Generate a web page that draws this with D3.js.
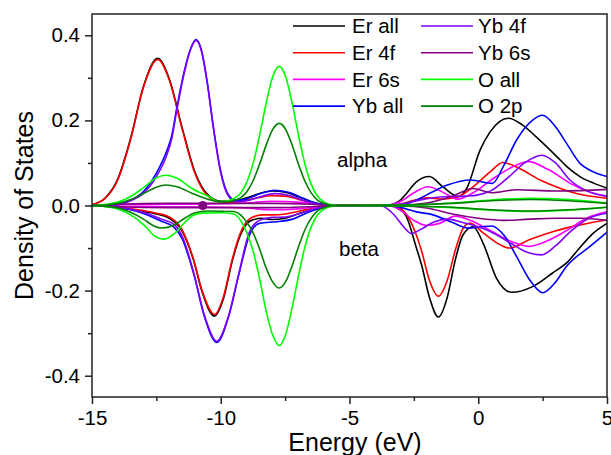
<!DOCTYPE html>
<html>
<head>
<meta charset="utf-8">
<script src="https://cdn.jsdelivr.net/npm/d3@7"></script>
<style>
  body { margin: 0; background: #fff; }
  text { font-family: Arial, "Liberation Sans", sans-serif; fill: #000; }
</style>
</head>
<body>
<div id="chart"></div>
<script>
// ---- data: [energy (eV), DOS] ----
const erAllUp = [[-15,0.002],[-14.5,0.017],[-14,0.062],[-13.5,0.158],[-13,0.28],[-12.45,0.346],[-12,0.298],[-11.5,0.183],[-11,0.078],[-10.5,0.025],[-10,0.01],[-9.5,0.01],[-9,0.018],[-8.5,0.028],[-8,0.034],[-7.5,0.031],[-7,0.021],[-6.5,0.009],[-6,0.002],[-5.5,0],[-4,0],[-3.5,0.001],[-3,0.014],[-2.78,0.029],[-2.39,0.056],[-1.9,0.068],[-1.36,0.043],[-0.77,0.021],[-0.45,0.04],[0.07,0.13],[0.46,0.173],[1.17,0.205],[1.7,0.19],[2.27,0.16],[3.05,0.115],[3.43,0.092],[3.95,0.068],[4.5,0.052],[5,0.041]];
const erFourUp = [[-15,0.002],[-14.5,0.016],[-14,0.06],[-13.5,0.155],[-13,0.278],[-12.45,0.343],[-12,0.295],[-11.5,0.18],[-11,0.075],[-10.5,0.022],[-10,0.008],[-9.5,0.007],[-9,0.012],[-8.5,0.019],[-8,0.023],[-7.5,0.022],[-7,0.015],[-6.5,0.006],[-6,0.001],[-5.5,0],[-3.5,0],[-3,0.004],[-2.5,0.012],[-2,0.018],[-1.4,0.015],[-0.8,0.02],[-0.2,0.044],[0.46,0.079],[0.95,0.101],[1.6,0.087],[2.4,0.06],[3.2,0.04],[3.7,0.03],[5,0.017]];
const erSixUp = [[-15,0],[-14,0.002],[-12,0.003],[-10,0.004],[-9,0.006],[-8,0.01],[-7,0.008],[-6,0.002],[-5.5,0],[-3.5,0.001],[-3,0.01],[-2.5,0.03],[-1.95,0.044],[-1.4,0.032],[-0.8,0.015],[-0.2,0.03],[0.5,0.06],[1.3,0.09],[1.95,0.103],[2.7,0.085],[3.7,0.048],[4.4,0.03],[5,0.021]];
const ybAllUp = [[-15,0],[-14,0.002],[-13.5,0.013],[-13,0.033],[-12.5,0.076],[-12.1,0.128],[-11.9,0.165],[-11.7,0.232],[-11.4,0.32],[-11.15,0.372],[-10.96,0.39],[-10.75,0.365],[-10.5,0.28],[-10.3,0.19],[-10,0.08],[-9.7,0.025],[-9.4,0.012],[-9,0.015],[-8.5,0.027],[-7.9,0.036],[-7.3,0.03],[-6.8,0.017],[-6.3,0.006],[-5.8,0.001],[-5,0],[-3,0.002],[-2.5,0.01],[-2,0.025],[-1.2,0.048],[-0.3,0.06],[0.55,0.052],[1,0.095],[1.5,0.155],[2.1,0.2],[2.5,0.212],[3,0.185],[3.43,0.146],[3.95,0.099],[4.34,0.083],[5,0.068]];
const ybFourUp = [[-15,0],[-14,0.002],[-13.5,0.011],[-13,0.029],[-12.5,0.068],[-12.1,0.118],[-11.9,0.158],[-11.7,0.226],[-11.4,0.316],[-11.15,0.37],[-10.96,0.388],[-10.75,0.363],[-10.5,0.278],[-10.3,0.188],[-10,0.077],[-9.7,0.022],[-9.4,0.009],[-9,0.011],[-8.5,0.02],[-7.9,0.028],[-7.3,0.023],[-6.8,0.012],[-6.3,0.004],[-5.8,0],[-3.5,0],[-3,0.003],[-2.5,0.01],[-1.5,0.02],[-0.5,0.022],[0,0.025],[0.5,0.035],[1.2,0.068],[1.8,0.1],[2.46,0.118],[3,0.1],[3.56,0.06],[4.2,0.035],[5,0.022]];
const ybSixUp = [[-15,0],[-14,0.003],[-12,0.005],[-10,0.005],[-8,0.005],[-6.5,0.003],[-5.5,0],[-3,0.001],[-2,0.006],[-1,0.022],[-0.2,0.04],[0.5,0.03],[1.5,0.037],[3,0.034],[4,0.035],[5,0.038]];
const oAllUp = [[-15,0],[-14.5,0.002],[-14,0.008],[-13.5,0.021],[-13,0.042],[-12.5,0.065],[-12.13,0.071],[-11.7,0.064],[-11.12,0.04],[-10.47,0.021],[-10.07,0.009],[-9.73,0.011],[-9.48,0.017],[-9.23,0.029],[-8.98,0.056],[-8.73,0.102],[-8.48,0.168],[-8.23,0.242],[-7.98,0.303],[-7.73,0.327],[-7.48,0.303],[-7.23,0.241],[-6.98,0.165],[-6.73,0.097],[-6.48,0.049],[-6.23,0.021],[-5.98,0.008],[-5.73,0.002],[-5.4,0],[-3,0.001],[-1,0.006],[0.5,0.013],[2,0.017],[3.5,0.014],[5,0.006]];
const oTwoUp = [[-15,0],[-14.5,0.001],[-14,0.005],[-13.5,0.014],[-13,0.028],[-12.5,0.043],[-12.13,0.048],[-11.7,0.044],[-11.12,0.029],[-10.47,0.014],[-10.07,0.009],[-9.73,0.009],[-9.48,0.012],[-9.23,0.018],[-8.98,0.033],[-8.73,0.06],[-8.48,0.099],[-8.23,0.143],[-7.98,0.179],[-7.73,0.193],[-7.48,0.179],[-7.23,0.142],[-6.98,0.097],[-6.73,0.057],[-6.48,0.029],[-6.23,0.012],[-5.98,0.005],[-5.73,0.001],[-5.4,0],[-3,0.001],[-1,0.005],[0.5,0.011],[2,0.014],[3.5,0.011],[5,0.005]];

const erAllDn = [[-15,0],[-14,-0.005],[-13,-0.014],[-12.5,-0.02],[-12,-0.03],[-11.5,-0.06],[-11.05,-0.13],[-10.74,-0.2],[-10.24,-0.26],[-9.9,-0.22],[-9.56,-0.132],[-9.24,-0.07],[-8.84,-0.036],[-8.4,-0.03],[-8,-0.033],[-7.5,-0.03],[-7,-0.02],[-6.5,-0.01],[-6,-0.003],[-5.5,0],[-3.5,0],[-3.2,-0.003],[-2.8,-0.025],[-2.4,-0.1],[-2.2,-0.14],[-1.9,-0.215],[-1.55,-0.262],[-1.2,-0.215],[-0.9,-0.13],[-0.6,-0.07],[-0.2,-0.05],[0.2,-0.09],[0.7,-0.17],[1.3,-0.204],[2.13,-0.19],[2.9,-0.158],[3.43,-0.135],[4,-0.095],[4.47,-0.065],[5,-0.042]];
const erFourDn = [[-15,0],[-14,-0.004],[-13,-0.012],[-12.5,-0.018],[-12,-0.027],[-11.5,-0.057],[-11.05,-0.128],[-10.74,-0.197],[-10.24,-0.256],[-9.9,-0.215],[-9.56,-0.128],[-9.24,-0.065],[-8.84,-0.03],[-8.4,-0.022],[-8,-0.022],[-7.5,-0.02],[-7,-0.014],[-6.5,-0.007],[-6,-0.002],[-5.5,0],[-3.5,0],[-3.2,-0.002],[-2.8,-0.02],[-2.4,-0.07],[-2.2,-0.107],[-1.9,-0.175],[-1.55,-0.213],[-1.2,-0.175],[-0.9,-0.107],[-0.6,-0.055],[-0.32,-0.041],[0.2,-0.065],[0.84,-0.092],[1.2,-0.1],[2,-0.08],[2.92,-0.061],[4,-0.045],[5,-0.034]];
const erSixDn = [[-15,0],[-14,-0.002],[-12,-0.003],[-10,-0.004],[-9,-0.006],[-8,-0.01],[-7,-0.008],[-6,-0.002],[-5.5,0],[-3.5,0],[-3,-0.012],[-2.5,-0.035],[-2,-0.047],[-1.5,-0.042],[-0.9,-0.025],[-0.3,-0.035],[0.5,-0.06],[1.3,-0.085],[1.94,-0.096],[2.6,-0.085],[3.4,-0.06],[4.2,-0.03],[5,-0.015]];
const ybAllDn = [[-15,0],[-14,-0.004],[-13.5,-0.01],[-12.9,-0.021],[-12.3,-0.037],[-11.8,-0.052],[-11.5,-0.078],[-11.04,-0.163],[-10.65,-0.258],[-10.15,-0.322],[-9.7,-0.262],[-9.3,-0.163],[-8.9,-0.072],[-8.5,-0.042],[-7.8,-0.038],[-7.2,-0.032],[-6.6,-0.016],[-6,-0.004],[-5.6,0],[-3.5,0],[-3,-0.005],[-2.4,-0.015],[-1.75,-0.022],[-1,-0.04],[-0.38,-0.053],[0.1,-0.05],[0.52,-0.048],[1,-0.07],[1.49,-0.12],[2,-0.175],[2.5,-0.205],[3,-0.18],[3.43,-0.143],[4.34,-0.096],[5,-0.063]];
const ybFourDn = [[-15,0],[-14,-0.004],[-13.5,-0.009],[-12.9,-0.018],[-12.3,-0.032],[-11.8,-0.045],[-11.5,-0.072],[-11.04,-0.16],[-10.65,-0.255],[-10.15,-0.319],[-9.7,-0.26],[-9.3,-0.16],[-8.9,-0.065],[-8.5,-0.035],[-8,-0.028],[-7.5,-0.027],[-7,-0.02],[-6.5,-0.01],[-6,-0.003],[-5.6,0],[-3.8,0],[-3.3,-0.02],[-2.9,-0.05],[-2.6,-0.066],[-2.2,-0.055],[-1.7,-0.038],[-1.2,-0.032],[-0.6,-0.04],[0,-0.05],[0.6,-0.065],[1.3,-0.09],[1.9,-0.11],[2.46,-0.116],[3,-0.095],[3.6,-0.06],[4.3,-0.03],[5,-0.018]];
const ybSixDn = [[-15,0],[-14,-0.003],[-12,-0.005],[-10,-0.005],[-8,-0.005],[-6.5,-0.003],[-5.5,0],[-3,-0.001],[-2,-0.006],[-1,-0.02],[0,-0.03],[1,-0.035],[2,-0.032],[3,-0.03],[4,-0.03],[5,-0.035]];
const oAllDn = [[-15,0],[-14.5,-0.002],[-14,-0.008],[-13.5,-0.022],[-13,-0.045],[-12.6,-0.07],[-12.2,-0.079],[-11.8,-0.066],[-11.4,-0.04],[-11.1,-0.024],[-10.7,-0.018],[-10,-0.017],[-9.5,-0.02],[-9.23,-0.035],[-8.98,-0.065],[-8.73,-0.11],[-8.48,-0.175],[-8.23,-0.25],[-7.98,-0.305],[-7.73,-0.329],[-7.48,-0.303],[-7.23,-0.241],[-6.98,-0.165],[-6.73,-0.097],[-6.48,-0.049],[-6.23,-0.021],[-5.98,-0.008],[-5.73,-0.002],[-5.4,0],[-3,-0.001],[-1,-0.005],[0.5,-0.011],[2,-0.014],[3.5,-0.011],[5,-0.004]];
const oTwoDn = [[-15,0],[-14.5,-0.002],[-14,-0.006],[-13.5,-0.016],[-13,-0.032],[-12.6,-0.048],[-12.3,-0.053],[-11.9,-0.048],[-11.4,-0.03],[-11,-0.017],[-10.5,-0.013],[-9.5,-0.014],[-9.23,-0.022],[-8.98,-0.04],[-8.73,-0.066],[-8.48,-0.104],[-8.23,-0.148],[-7.98,-0.18],[-7.73,-0.194],[-7.48,-0.179],[-7.23,-0.142],[-6.98,-0.097],[-6.73,-0.057],[-6.48,-0.029],[-6.23,-0.012],[-5.98,-0.005],[-5.73,-0.001],[-5.4,0],[-3,-0.001],[-1,-0.004],[0.5,-0.01],[2,-0.013],[3.5,-0.01],[5,-0.004]];

const markerPoint = [[-10.7, 0]];

const seriesNames = ['Er all', 'Er 4f', 'Er 6s', 'Yb all', 'Yb 4f', 'Yb 6s', 'O all', 'O 2p'];
const seriesColors = ['#000000', '#ff0000', '#ff00ff', '#0000ff', '#8000ff', '#800080', '#00ff00', '#008000'];
const alphaData = [erAllUp, erFourUp, erSixUp, ybAllUp, ybFourUp, ybSixUp, oAllUp, oTwoUp];
const betaData = [erAllDn, erFourDn, erSixDn, ybAllDn, ybFourDn, ybSixDn, oAllDn, oTwoDn];

const xMajor = [-15, -10, -5, 0, 5];
const xMinor = [-12.5, -7.5, -2.5, 2.5];
const yMajor = [-0.4, -0.2, 0, 0.2, 0.4];
const yMinor = [-0.3, -0.1, 0.1, 0.3];

// ---- layout ----
const dimensions = {
  width: 611,
  height: 455,
  margin: { top: 14, right: 4, bottom: 58, left: 92 },
};
dimensions.boundedWidth = dimensions.width - dimensions.margin.left - dimensions.margin.right;
dimensions.boundedHeight = dimensions.height - dimensions.margin.top - dimensions.margin.bottom;

const xScale = d3.scaleLinear().domain([-15, 5]).range([0, dimensions.boundedWidth]);
const yScale = d3.scaleLinear().domain([-0.45, 0.45]).range([dimensions.boundedHeight, 0]);

const wrapper = d3.select('#chart').append('svg')
  .attr('width', dimensions.width)
  .attr('height', dimensions.height);

const bounds = wrapper.append('g')
  .attr('transform', `translate(${dimensions.margin.left},${dimensions.margin.top})`);

bounds.append('clipPath').attr('id', 'clip')
  .append('rect')
  .attr('width', dimensions.boundedWidth)
  .attr('height', dimensions.boundedHeight);

// ---- curves ----
const lineGen = d3.line()
  .x((d) => xScale(d[0]))
  .y((d) => yScale(d[1]))
  .curve(d3.curveMonotoneX);

const plot = bounds.append('g').attr('clip-path', 'url(#clip)');

seriesNames.forEach((name, i) => {
  [alphaData[i], betaData[i]].forEach((pts) => {
    plot.append('path')
      .datum(pts)
      .attr('d', lineGen)
      .attr('fill', 'none')
      .attr('stroke', seriesColors[i])
      .attr('stroke-width', 1.6)
      .attr('stroke-linejoin', 'round');
  });
});

plot.selectAll('circle.marker')
  .data(markerPoint)
  .enter()
  .append('circle')
  .attr('class', 'marker')
  .attr('cx', (d) => xScale(d[0]))
  .attr('cy', (d) => yScale(d[1]))
  .attr('r', 4.5)
  .attr('fill', '#800080');

// ---- axes ----
const xAxis = bounds.append('g')
  .attr('transform', `translate(0,${dimensions.boundedHeight})`)
  .call(d3.axisBottom(xScale).tickValues(xMajor).tickFormat((d) => String(d)).tickSize(7).tickSizeOuter(0).tickPadding(6));
bounds.append('g')
  .attr('transform', `translate(0,${dimensions.boundedHeight})`)
  .call(d3.axisBottom(xScale).tickValues(xMinor).tickFormat('').tickSize(4).tickSizeOuter(0));

const yAxis = bounds.append('g')
  .call(d3.axisLeft(yScale).tickValues(yMajor).tickFormat((d) => d.toFixed(1)).tickSize(7).tickSizeOuter(0).tickPadding(5));
bounds.append('g')
  .call(d3.axisLeft(yScale).tickValues(yMinor).tickFormat('').tickSize(4).tickSizeOuter(0));

bounds.selectAll('.domain').remove();
bounds.selectAll('.tick line').attr('stroke', '#222').attr('stroke-width', 1.5);
bounds.selectAll('.tick text').style('font-size', '20.5px').attr('fill', '#000');

bounds.append('rect')
  .attr('width', dimensions.boundedWidth)
  .attr('height', dimensions.boundedHeight)
  .attr('fill', 'none')
  .attr('stroke', '#222')
  .attr('stroke-width', 1.5);

// axis titles
wrapper.append('text')
  .attr('x', 355)
  .attr('y', 451)
  .attr('text-anchor', 'middle')
  .style('font-size', '25px')
  .text('Energy (eV)');

wrapper.append('text')
  .attr('transform', `translate(33,${dimensions.margin.top + yScale(0)}) rotate(-90)`)
  .attr('text-anchor', 'middle')
  .style('font-size', '25px')
  .text('Density of States');

// spin labels
bounds.append('text')
  .attr('x', 337 - dimensions.margin.left)
  .attr('y', 167 - dimensions.margin.top)
  .style('font-size', '20.5px')
  .text('alpha');
bounds.append('text')
  .attr('x', 339 - dimensions.margin.left)
  .attr('y', 256 - dimensions.margin.top)
  .style('font-size', '20.5px')
  .text('beta');

// ---- legend ----
const legend = wrapper.append('g');
seriesNames.forEach((name, i) => {
  const col = Math.floor(i / 4);
  const row = i % 4;
  const cy = 26 + row * 26.7;
  const x0 = col === 0 ? 293 : 421;
  legend.append('line')
    .attr('x1', x0).attr('x2', x0 + 52)
    .attr('y1', cy).attr('y2', cy)
    .attr('stroke', seriesColors[i])
    .attr('stroke-width', 1.6);
  legend.append('text')
    .attr('x', x0 + (col === 0 ? 59 : 57))
    .attr('y', cy + 7.3)
    .style('font-size', '20.5px')
    .text(name);
});
</script>
</body>
</html>
